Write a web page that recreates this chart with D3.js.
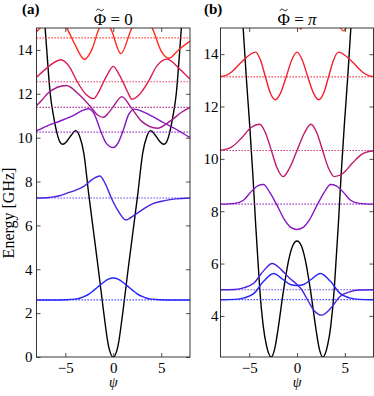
<!DOCTYPE html>
<html>
<head>
<meta charset="utf-8">
<script src="https://cdn.jsdelivr.net/npm/d3@7"></script>
<style>
body{margin:0;background:#fff}
text{font-family:"Liberation Serif","DejaVu Serif",serif;fill:#000}
</style>
</head>
<body>
<svg id="svg" width="374" height="396"></svg>
<script>
// ---- panel (a): flux = 0 ----
var levelsA = [2.6, 7.25, 10.25, 11.38, 12.55, 14.55];
var colorsA = ['#2222ff', '#4a20e4', '#8416c4', '#a8168c', '#dc1a4c', '#ff2a1c'];
var potA = [[-8,20],[-7.5,16.8],[-7.1,15],[-6.85,13.5],[-6.58,12.05],[-6.23,11],[-5.88,10.23],[-5.55,9.8],[-5.25,9.7],[-4.9,9.8],[-4.4,10.1],[-3.9,10.32],[-3.5,10.05],[-3.07,9.3],[-2.55,7.4],[-2.05,5.7],[-1.55,4.0],[-1.0,2.05],[-0.5,0.52],[0,0],[0.5,0.52],[1.0,2.05],[1.55,4.0],[2.05,5.7],[2.55,7.4],[3.07,9.3],[3.5,10.05],[3.9,10.32],[4.4,10.1],[4.9,9.8],[5.25,9.7],[5.55,9.8],[5.88,10.23],[6.23,11],[6.58,12.05],[6.85,13.5],[7.1,15],[7.5,16.8],[8,20]];
// wavefunctions, offset from their level
var wA0 = [[-8,0],[-6,0],[-5,0.01],[-4,0.04],[-3.5,0.08],[-3,0.16],[-2.5,0.28],[-2,0.45],[-1.5,0.63],[-1,0.81],[-0.5,0.95],[0,1.0],[0.5,0.95],[1,0.81],[1.5,0.63],[2,0.45],[2.5,0.28],[3,0.16],[3.5,0.08],[4,0.04],[5,0.01],[6,0],[8,0]];
var wA1 = [[-8,0],[-7,0.01],[-6.6,0.03],[-5.6,0.1],[-4.82,0.22],[-3.9,0.36],[-3.07,0.53],[-2.2,0.84],[-1.39,1.0],[-0.8,0.62],[-0.2,0],[0.5,-0.58],[1.31,-1.0],[2.2,-0.78],[3.24,-0.47],[4.2,-0.25],[5.35,-0.12],[6.5,-0.04],[8,0]];
var wA2 = [[-8,0.06],[-6.93,0.28],[-5.53,0.51],[-4.13,0.77],[-3.3,0.97],[-2.6,1.07],[-2.0,0.85],[-1.35,0.1],[-0.7,-0.52],[0,-0.7],[0.55,-0.45],[1.05,0.1],[1.6,0.8],[2.25,1.05],[3.0,0.95],[3.87,0.77],[5.27,0.43],[6.68,0.1],[8,-0.25]];
var wA3 = [[-8,0.07],[-7.5,0.3],[-6.76,0.67],[-4.9,1.0],[-3.6,0.6],[-2.3,0],[-1.6,-0.36],[-1.0,-0.45],[-0.5,-0.25],[-0.05,0],[0.9,0.49],[1.85,0],[3.0,-0.65],[4.6,-0.95],[6.0,-0.6],[7.2,-0.2],[8,0]];
var wA4 = [[-8,0.2],[-7,0.6],[-5.45,1.0],[-4.6,0.7],[-3.75,0],[-2.9,-0.55],[-2.05,-0.77],[-1.5,-0.45],[-1.0,0],[-0.5,0.42],[0,0.7],[0.5,0.42],[1.0,0],[1.5,-0.47],[1.95,-0.8],[2.8,-0.55],[3.65,0],[4.55,0.72],[5.6,1.03],[7,0.55],[8,0.12]];
var wA5 = [[-8,0.28],[-7.5,0.5],[-6.8,0.85],[-6.2,0.95],[-5.5,0.8],[-4.85,0.45],[-4.0,-0.3],[-3.0,-0.98],[-2.2,-0.5],[-1.45,0.45],[-0.9,0.7],[-0.3,0.45],[0.8,-0.72],[1.95,0.45],[3.0,0.95],[4.05,0.45],[5.0,-0.6],[5.8,-0.93],[6.8,-0.55],[8,-0.15]];

// ---- panel (b): flux = pi ----
var levelsB = [4.62, 5.0, 8.27, 10.32, 13.13, 15.92];
var colorsB = ['#2424ff', '#4d20e0', '#8416c4', '#c0186c', '#f2202e', '#ff3a10'];
var potB = [[-8,28],[-6.5,20.5],[-6.0,17.2],[-5.63,15],[-5.3,13.1],[-4.95,11.3],[-4.6,9.3],[-4.34,7.6],[-4.1,6.2],[-3.89,5.0],[-3.54,3.64],[-3.2,2.88],[-2.7,2.43],[-2.3,2.8],[-1.98,3.5],[-1.46,4.85],[-0.86,6.15],[-0.45,6.68],[0,6.86],[0.45,6.68],[0.86,6.15],[1.46,4.85],[1.98,3.5],[2.3,2.8],[2.7,2.43],[3.2,2.88],[3.54,3.64],[3.89,5.0],[4.1,6.2],[4.34,7.6],[4.6,9.3],[4.95,11.3],[5.3,13.1],[5.63,15],[6.0,17.2],[6.5,20.5],[8,28]];
var wB0 = [[-8,0],[-6.5,0.01],[-5.5,0.07],[-4.5,0.24],[-3.5,0.7],[-2.45,1.0],[-1.5,0.78],[-0.7,0.58],[0,0.54],[0.7,0.58],[1.5,0.78],[2.45,1.0],[3.5,0.7],[4.5,0.24],[5.5,0.07],[6.5,0.01],[8,0]];
var wB1 = [[-8,0],[-6.5,0.01],[-5.5,0.08],[-4.5,0.26],[-3.5,0.72],[-2.6,1.0],[-1.6,0.75],[-0.8,0.45],[0,0.2],[0.5,0],[1.2,-0.45],[1.8,-0.8],[2.6,-0.97],[3.5,-0.72],[4.5,-0.26],[5.5,-0.08],[6.5,-0.01],[8,0]];
var wB2 = [[-8,0],[-6.5,0.03],[-5.6,0.15],[-4.86,0.45],[-4.1,0.7],[-3.5,0.75],[-2.85,0.45],[-2.15,0],[-1.3,-0.6],[-0.6,-0.9],[0,-0.97],[0.6,-0.9],[1.3,-0.6],[2.15,0],[2.85,0.45],[3.5,0.75],[4.1,0.7],[4.86,0.45],[5.6,0.15],[6.5,0.03],[8,0]];
var wB3 = [[-8,0.01],[-7.5,0.04],[-6.84,0.13],[-5.8,0.48],[-4.8,0.88],[-3.9,1.0],[-3.3,0.68],[-2.68,0],[-2.07,-0.68],[-1.45,-1.0],[-0.75,-0.65],[0,0],[0.75,0.65],[1.45,1.0],[2.07,0.68],[2.68,0],[3.3,-0.68],[3.9,-1.0],[4.8,-0.88],[5.8,-0.48],[6.84,-0.13],[7.5,-0.04],[8,-0.01]];
var wB4 = [[-8,0.01],[-7.5,0.05],[-6.84,0.19],[-5.8,0.57],[-4.34,0.95],[-3.82,0.65],[-3.3,0],[-2.78,-0.62],[-2.26,-0.87],[-1.7,-0.6],[-1.13,0],[-0.55,0.65],[0,0.95],[0.55,0.65],[1.13,0],[1.7,-0.6],[2.26,-0.87],[2.78,-0.62],[3.3,0],[3.82,0.65],[4.34,0.95],[5.8,0.57],[6.84,0.19],[7.5,0.05],[8,0.01]];
var wB5 = [[-8,0],[-6.8,0.2],[-5.6,0.7],[-4.4,0.6],[-3.3,-0.3],[-2.2,-0.5],[-1.0,0.3],[0.4,-0.96],[1.6,0.2],[2.7,0.85],[3.9,-0.3],[4.85,-1.03],[5.9,-0.3],[6.8,0.1],[8,0.02]];

var xTicks = [-5, 0, 5];
var yTicksA = [0, 2, 4, 6, 8, 10, 12, 14];
var yTicksB = [4, 6, 8, 10, 12, 14];

var svg = d3.select('#svg');
var plotTop = 28, plotBottom = 357;

function panel(o) {
  var x = d3.scaleLinear().domain([-8, 8]).range([o.left, o.right]);
  var y = d3.scaleLinear().domain(o.ydom).range([plotBottom, plotTop]);
  var g = svg.append('g');

  g.append('clipPath').attr('id', 'clip' + o.id)
    .append('rect').attr('x', o.left).attr('y', plotTop)
    .attr('width', o.right - o.left).attr('height', plotBottom - plotTop);
  var plot = g.append('g').attr('clip-path', 'url(#clip' + o.id + ')');

  var line = d3.line().curve(d3.curveMonotoneX);

  // potential
  plot.append('path')
    .attr('d', line.x(d => x(d[0])).y(d => y(d[1]))(o.pot))
    .attr('fill', 'none').attr('stroke', '#000').attr('stroke-width', 1.4);

  // levels (dotted) and wavefunctions
  o.levels.forEach(function(lev, i) {
    plot.append('line')
      .attr('x1', x(-8)).attr('x2', x(8)).attr('y1', y(lev)).attr('y2', y(lev))
      .attr('stroke', o.colors[i]).attr('stroke-width', 1.2)
      .attr('stroke-dasharray', '1.3,1.7');
    plot.append('path')
      .attr('d', line.x(d => x(d[0])).y(d => y(lev + d[1]))(o.waves[i]))
      .attr('fill', 'none').attr('stroke', o.colors[i]).attr('stroke-width', 1.4);
  });

  // frame
  g.append('rect').attr('x', o.left).attr('y', plotTop)
    .attr('width', o.right - o.left).attr('height', plotBottom - plotTop)
    .attr('fill', 'none').attr('stroke', '#222').attr('stroke-width', 0.9);

  var ax = [
    [d3.axisBottom(x).tickValues(xTicks), 0, plotBottom, 5],
    [d3.axisTop(x).tickValues(xTicks), 0, plotTop, -1],
    [d3.axisLeft(y).tickValues(o.yticks), o.left, 0, o.pad],
    [d3.axisRight(y).tickValues(o.yticks), o.right, 0, -1]
  ];
  ax.forEach(function(a) {
    var axis = a[0].tickSizeInner(-4).tickSizeOuter(0).tickPadding(Math.max(a[3], 0));
    if (a[3] < 0) axis.tickFormat('');
    var ag = g.append('g').attr('transform', 'translate(' + a[1] + ',' + a[2] + ')').call(axis);
    ag.select('.domain').remove();
    ag.selectAll('line').attr('stroke', '#222').attr('stroke-width', 0.8);
    ag.selectAll('text').attr('font-size', 15)
      .style('font-family', '"Liberation Serif","DejaVu Serif",serif').attr('fill', '#000');
  });

  // labels
  g.append('text').attr('x', o.labelX).attr('y', 14)
    .attr('font-size', 15).attr('font-weight', 'bold').text(o.label);
  var t = g.append('text').attr('x', x(0)).attr('y', 24.5)
    .attr('text-anchor', 'middle').attr('font-size', 17);
  t.append('tspan').text('\u03A6 = ');
  t.append('tspan').attr('font-style', o.titleItalic ? 'italic' : 'normal').text(o.titleVal);
  // tilde over the Phi
  var ext = t.node().getExtentOfChar(0);
  var cx = ext.x + ext.width / 2;
  g.append('path')
    .attr('d', 'M' + (cx - 3.6) + ',10.6 C' + (cx - 2.2) + ',8.2 ' + (cx - 1) + ',9.4 ' + cx + ',10 S' + (cx + 2.4) + ',11.6 ' + (cx + 3.6) + ',9.2')
    .attr('fill', 'none').attr('stroke', '#000').attr('stroke-width', 1);
  g.append('text').attr('x', x(0)).attr('y', 387)
    .attr('text-anchor', 'middle').attr('font-size', 14).attr('font-style', 'italic').text('\u03C8');
}

panel({id: 'a', left: 36.5, right: 190, ydom: [0, 15], yticks: yTicksA, pad: 4,
  pot: potA, levels: levelsA, colors: colorsA, waves: [wA0, wA1, wA2, wA3, wA4, wA5],
  label: '(a)', labelX: 22, titleVal: '0', titleItalic: false});
panel({id: 'b', left: 220.5, right: 373.5, ydom: [2.43, 15], yticks: yTicksB, pad: 2,
  pot: potB, levels: levelsB, colors: colorsB, waves: [wB0, wB1, wB2, wB3, wB4, wB5],
  label: '(b)', labelX: 204, titleVal: '\u03C0', titleItalic: true});

svg.append('text').attr('transform', 'translate(14,213) rotate(-90)')
  .attr('text-anchor', 'middle').attr('font-size', 16).text('Energy [GHz]');
</script>
</body>
</html>
